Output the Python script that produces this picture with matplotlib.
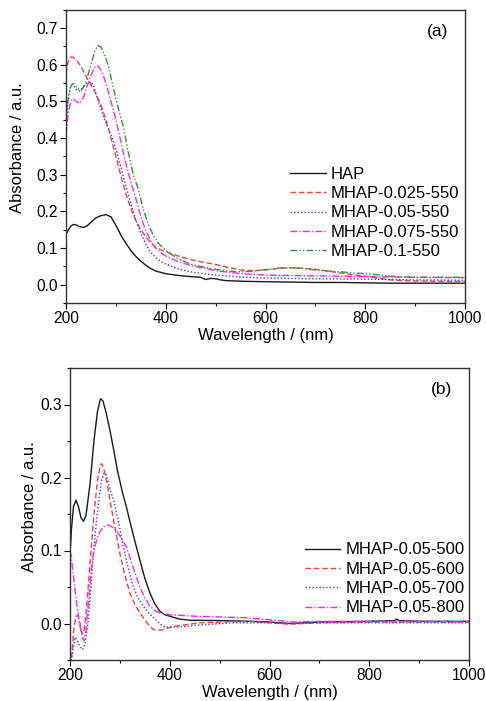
import matplotlib
matplotlib.use("Agg")
import matplotlib.pyplot as plt
from matplotlib.ticker import MultipleLocator

plt.rcParams['font.family'] = ['Liberation Sans', 'DejaVu Sans']
plt.rcParams['font.size'] = 11

# ---------------- Panel (a) data ----------------
labels_a = ["HAP", "MHAP-0.025-550", "MHAP-0.05-550", "MHAP-0.075-550", "MHAP-0.1-550"]

hap_wl = [200,205,210,215,220,228,235,242,250,260,270,280,290,300,310,320,330,340,350,360,370,380,
          400,420,440,460,470,480,490,500,510,520,540,560,600,650,700,750,800,850,900,950,1000]
hap_a = [0.138,0.15,0.16,0.164,0.163,0.158,0.156,0.16,0.17,0.182,0.188,0.191,0.185,0.162,0.135,0.113,
         0.093,0.077,0.064,0.053,0.044,0.037,0.03,0.026,0.023,0.021,0.020,0.014,0.017,0.016,0.013,
         0.011,0.010,0.009,0.008,0.007,0.006,0.006,0.005,0.004,0.004,0.004,0.004]

m025_wl = [200,203,206,211,216,222,230,240,250,260,270,280,290,300,310,320,330,340,350,360,370,380,
           390,400,425,450,475,500,525,550,575,600,625,650,675,700,725,750,775,800,825,850,875,900,950,1000]
m025_a = [0.575,0.6,0.615,0.621,0.618,0.61,0.595,0.568,0.545,0.52,0.49,0.45,0.4,0.35,0.297,0.248,
          0.207,0.175,0.15,0.13,0.114,0.102,0.095,0.09,0.078,0.068,0.061,0.055,0.047,0.04,0.038,0.04,
          0.044,0.046,0.045,0.042,0.037,0.032,0.027,0.023,0.018,0.013,0.011,0.01,0.009,0.009]

m05_wl = [200,204,208,212,216,222,228,235,242,250,256,262,270,280,290,300,310,320,330,340,350,360,
          370,380,390,400,425,450,475,500,550,600,700,800,900,1000]
m05_a = [0.44,0.5,0.535,0.545,0.54,0.53,0.528,0.54,0.55,0.553,0.54,0.51,0.48,0.44,0.41,0.37,0.32,
         0.27,0.22,0.175,0.14,0.11,0.088,0.073,0.063,0.056,0.043,0.035,0.03,0.026,0.021,0.018,0.016,
         0.015,0.013,0.012]

m075_wl = [200,204,208,212,215,220,228,235,242,250,256,261,266,272,280,290,300,310,320,330,340,350,
           360,370,380,390,400,425,450,475,500,550,600,700,800,900,1000]
m075_a = [0.41,0.46,0.49,0.505,0.507,0.5,0.494,0.51,0.54,0.57,0.59,0.597,0.594,0.58,0.55,0.5,0.45,
          0.39,0.33,0.28,0.235,0.185,0.148,0.119,0.099,0.087,0.078,0.063,0.052,0.045,0.038,0.03,0.026,
          0.024,0.022,0.02,0.019]

m1_wl = [200,204,208,212,215,220,226,231,238,245,252,258,264,270,278,286,295,305,315,325,335,345,355,
         365,375,385,395,405,425,450,475,500,525,550,575,600,625,650,675,700,725,750,775,800,825,850,
         875,900,950,1000]
m1_a = [0.45,0.5,0.535,0.546,0.548,0.54,0.532,0.53,0.545,0.575,0.61,0.638,0.652,0.648,0.625,0.59,
        0.535,0.48,0.43,0.36,0.3,0.26,0.205,0.165,0.135,0.113,0.1,0.088,0.07,0.056,0.048,0.042,0.037,
        0.035,0.037,0.041,0.045,0.046,0.044,0.04,0.037,0.035,0.032,0.03,0.027,0.023,0.021,0.02,0.02,0.02]

# ---------------- Panel (b) data ----------------
labels_b = ["MHAP-0.05-500", "MHAP-0.05-600", "MHAP-0.05-700", "MHAP-0.05-800"]

t500_wl = [200,203,207,212,217,222,227,232,240,248,255,261,266,272,280,287,295,305,313,320,330,340,
           350,360,370,380,390,400,420,440,500,560,600,640,700,800,850,855,860,900,1000]
t500_a = [0.095,0.13,0.16,0.169,0.16,0.145,0.14,0.148,0.19,0.25,0.29,0.308,0.305,0.29,0.265,0.24,
          0.21,0.18,0.16,0.14,0.113,0.087,0.062,0.042,0.027,0.017,0.012,0.01,0.006,0.0045,0.004,0.003,
          0.002,0.0,0.002,0.003,0.004,0.006,0.004,0.003,0.003]

t600_wl = [200,204,208,212,216,220,224,228,233,240,248,255,260,263,268,275,280,290,300,310,320,330,
           340,350,360,367,373,383,393,407,430,460,500,560,600,640,700,800,900,1000]
t600_a = [-0.07,-0.04,-0.005,0.01,0.011,0.0,-0.014,-0.012,0.02,0.08,0.15,0.195,0.215,0.219,0.212,
          0.19,0.169,0.132,0.096,0.066,0.042,0.026,0.015,0.005,-0.004,-0.008,-0.009,-0.009,-0.007,
          -0.004,-0.002,0.001,0.002,0.003,0.001,-0.001,0.001,0.002,0.002,0.002]

t700_wl = [200,205,210,214,219,225,230,236,243,250,257,263,268,272,280,287,297,307,317,327,337,347,
           357,367,380,387,393,407,430,460,527,600,650,700,800,900,1000]
t700_a = [-0.06,-0.04,-0.019,-0.022,-0.03,-0.036,-0.028,0.0,0.06,0.12,0.165,0.195,0.206,0.205,0.185,
          0.17,0.14,0.105,0.075,0.05,0.034,0.024,0.015,0.008,0.0,-0.004,-0.005,-0.005,-0.004,-0.002,
          0.001,0.001,0.0,0.001,0.001,0.001,0.001]

t800_wl = [200,203,207,212,218,224,228,232,237,242,248,255,262,270,277,285,293,300,313,325,340,350,
           360,370,380,400,450,500,550,600,650,700,800,900,1000]
t800_a = [0.1,0.09,0.065,0.035,0.005,-0.018,-0.024,-0.01,0.03,0.07,0.1,0.118,0.128,0.134,0.135,0.132,
          0.127,0.12,0.105,0.08,0.05,0.035,0.024,0.018,0.0146,0.012,0.01,0.009,0.008,0.005,0.002,0.003,
          0.003,0.003,0.002]

x_ticks = [200, 400, 600, 800, 1000]

styles = [
    dict(color='#1a1a1a', linestyle='-'),
    dict(color='#ff3b3b', linestyle=(0, (4, 2))),
    dict(color='#3b3bff', linestyle=(0, (1, 1.5))),
    dict(color='#ff22ff', linestyle=(0, (5, 1.5, 1, 1.5))),
    dict(color='#2e9a2e', linestyle=(0, (5, 1.5, 1, 1.5, 1, 1.5))),
]

fig = plt.figure(figsize=(4.86, 7.01), dpi=100)
ax1 = fig.add_axes([66/486, (701-303)/701, 399/486, 293.5/701])
ax2 = fig.add_axes([70/486, (701-660)/701, 399/486, 292/701])

series_a = [(hap_wl, hap_a), (m025_wl, m025_a), (m05_wl, m05_a), (m075_wl, m075_a), (m1_wl, m1_a)]
for (wl, a), lab, st in zip(series_a, labels_a, styles):
    ax1.plot(wl, a, lw=1.0, label=lab, **st)

series_b = [(t500_wl, t500_a), (t600_wl, t600_a), (t700_wl, t700_a), (t800_wl, t800_a)]
for (wl, a), lab, st in zip(series_b, labels_b, styles):
    ax2.plot(wl, a, lw=1.0, label=lab, **st)

for ax, ylim, tag, ylpad, yly in [(ax1, (-0.05, 0.75), "(a)", 8, 0.528),
                                  (ax2, (-0.05, 0.35), "(b)", 2, 0.524)]:
    ax.set_xlim(200, 1000)
    ax.set_ylim(*ylim)
    ax.set_xticks(x_ticks)
    ax.xaxis.set_minor_locator(MultipleLocator(100))
    ax.yaxis.set_major_locator(MultipleLocator(0.1))
    ax.yaxis.set_minor_locator(MultipleLocator(0.05))
    ax.yaxis.set_major_formatter(matplotlib.ticker.FormatStrFormatter('%.1f'))
    ax.tick_params(which='major', direction='out', length=4, width=0.8, labelsize=11.2, pad=2)
    ax.tick_params(which='minor', direction='out', length=2.5, width=0.8)
    for sp in ax.spines.values():
        sp.set_linewidth(1.0)
        sp.set_color('#333333')
    ax.set_xlabel("Wavelength / (nm)", fontsize=12, labelpad=1)
    ax.set_ylabel("Absorbance / a.u.", fontsize=12, labelpad=ylpad, y=yly)
    ax.text(0.93, 0.925, tag, transform=ax.transAxes, ha='center', va='center', fontsize=12.5)

ax1.legend(loc='lower right', bbox_to_anchor=(1.015, 0.11), frameon=False, fontsize=12,
           handlelength=2.15, handletextpad=0.3, labelspacing=0.26, borderpad=0.2)
ax2.legend(loc='lower right', bbox_to_anchor=(1.018, 0.113), frameon=False, fontsize=12,
           handlelength=2.15, handletextpad=0.3, labelspacing=0.26, borderpad=0.2)

fig.savefig("out.png", dpi=100)
